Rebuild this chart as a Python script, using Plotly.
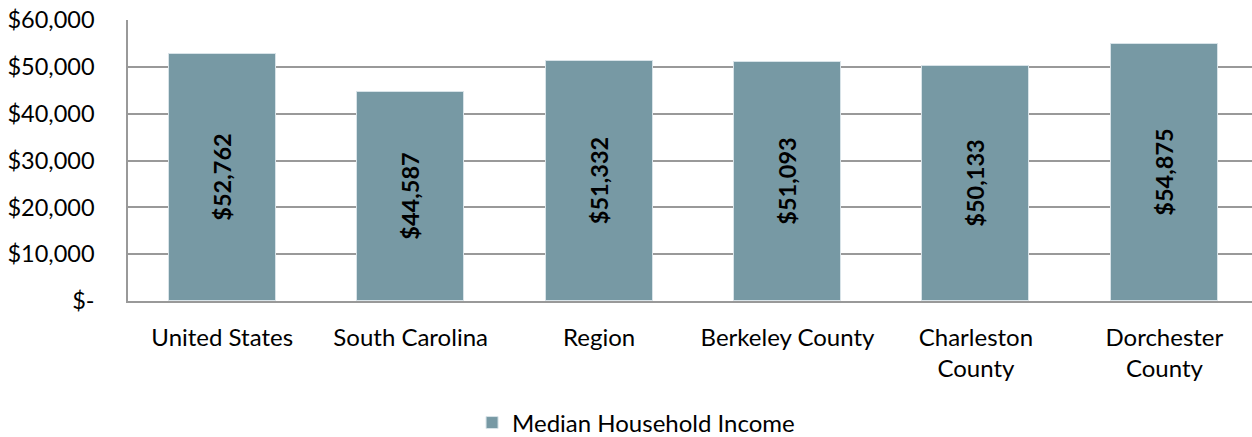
import plotly.graph_objects as go

categories = ["United States", "South Carolina", "Region", "Berkeley County", "Charleston<br>County", "Dorchester<br>County"]
values = [52762, 44587, 51332, 51093, 50133, 54875]
labels = ["$52,762", "$44,587", "$51,332", "$51,093", "$50,133", "$54,875"]
tick_vals = [0, 10000, 20000, 30000, 40000, 50000, 60000]
tick_text = ["$-", "$10,000", "$20,000", "$30,000", "$40,000", "$50,000", "$60,000"]
series_name = "Median Household Income"

FONT = "Lato, 'Open Sans', sans-serif"

fig = go.Figure()
fig.add_trace(go.Bar(
    x=list(range(len(categories))),
    y=values,
    name=series_name,
    text=labels,
    textposition="inside",
    insidetextanchor="middle",
    textangle=-90,
    textfont=dict(family=FONT, size=23.5, color="black", weight="bold"),
    marker=dict(color="#7799A4", line=dict(color="#D8E3E8", width=1)),
    width=0.568,
    showlegend=True,
))

fig.update_layout(
    width=1252, height=437,
    margin=dict(l=128, r=0, t=20, b=136, autoexpand=False),
    plot_bgcolor="white", paper_bgcolor="white",
    font=dict(family=FONT, size=24, color="black"),
    bargap=0,
    showlegend=True,
    legend=dict(orientation="h", x=0.452, xanchor="center", y=-0.434, yanchor="middle",
                font=dict(family=FONT, size=24, color="black")),
    xaxis=dict(
        tickmode="array", tickvals=list(range(len(categories))), ticktext=categories,
        range=[-0.5, 5.465], showgrid=False, showline=True, linecolor="#999999", linewidth=1.5,
        ticks="", ticklabelstandoff=14, tickfont=dict(family=FONT, size=24), automargin=False,
    ),
    yaxis=dict(
        tickmode="array", tickvals=tick_vals, ticktext=tick_text, range=[0, 60000],
        showgrid=True, gridcolor="#999999", gridwidth=1.5, showline=True, linecolor="#999999",
        linewidth=1.5, zeroline=False, ticks="", ticklabelstandoff=27,
        tickfont=dict(family=FONT, size=23.5), automargin=False,
    ),
)

fig.write_html("out.html", config={"displayModeBar": False},
               post_script="document.body.style.margin='0';document.body.style.overflow='hidden';")
